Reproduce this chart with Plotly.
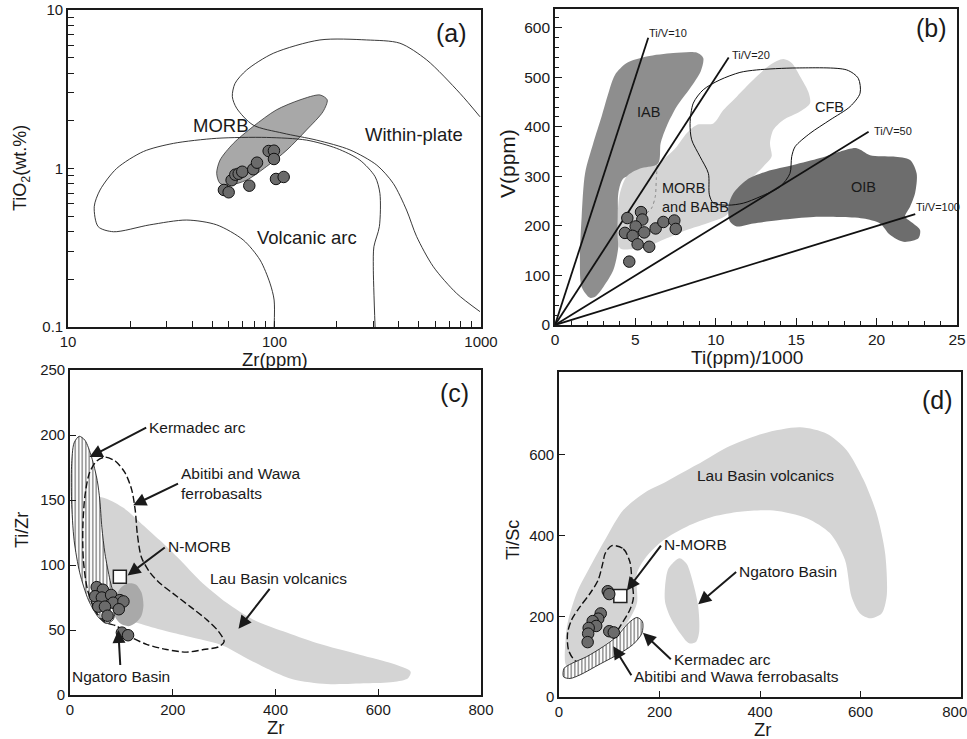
import math
import plotly.graph_objects as go

FONT = "Liberation Sans, Arial, sans-serif"
INK = "#1a1a1a"
PT_FILL = "#6b6b6b"
LIGHT = "#d4d4d4"

# ---------------- Panel (a): TiO2 vs Zr (log-log)
a_zr = [56.9, 60.0, 62.0, 64.6, 67.1, 69.8, 75.5, 78.9, 82.3, 93.7, 99.4, 99.4, 101.7, 110.8]
a_tio2 = [0.732, 0.708, 0.843, 0.914, 0.927, 0.954, 0.779, 0.989, 1.088, 1.289, 1.295, 1.148, 0.859, 0.884]

a_morb_zr = [52.5, 54.5, 63.2, 78.8, 102, 133, 166, 180, 172, 143, 115, 91.6, 73.3, 60.9, 54.5, 52.5]
a_morb_tio2 = [0.933, 1.13, 1.44, 1.84, 2.34, 2.71, 2.91, 2.71, 2.29, 1.75, 1.31, 1.03, 0.845, 0.787, 0.805, 0.933]

a_wp_zr = [989, 791, 546, 405, 279, 166, 98.7, 73.3, 64.4, 62.5, 65.6, 78.8, 110, 160, 232, 313, 376,
           436, 488, 588, 762, 989]
a_wp_tio2 = [2.12, 2.98, 4.84, 6.17, 6.47, 6.47, 5.33, 4.18, 3.44, 2.84, 2.40, 1.88, 1.67, 1.51, 1.31,
             1.05, 0.805, 0.547, 0.372, 0.240, 0.163, 0.125]

a_va_zr = [99.6, 99.6, 95.1, 85.1, 70.6, 52.5, 37.6, 24.9, 16.6, 14.0, 13.4, 14.3, 17.2, 23.2, 32.4,
           52.5, 91.6, 143, 200, 259, 307, 324, 322, 303, 301, 307]
a_va_tio2 = [0.1, 0.148, 0.189, 0.265, 0.354, 0.441, 0.473, 0.441, 0.399, 0.430, 0.574, 0.732, 1.0,
             1.28, 1.44, 1.55, 1.57, 1.51, 1.34, 1.13, 0.888, 0.697, 0.430, 0.321, 0.240, 0.1]

a_labels = ["MORB", "Within-plate", "Volcanic arc"]
a_label_zr = [55.1, 474, 144]
a_label_tio2 = [1.88, 1.65, 0.365]

# ---------------- Panel (b): V vs Ti/1000
b_ti = [4.50, 5.35, 5.43, 5.02, 4.35, 4.83, 5.55, 6.26, 6.74, 7.42, 7.51, 5.14, 5.86, 4.62]
b_v = [216, 228, 213, 199, 186, 180, 187, 195, 208, 211, 194, 163, 158, 128]

b_ratio = [10, 20, 50, 100]
b_ratio_end_ti = [5.8, 10.8, 19.5, 22.4]
b_ratio_label_ti = [5.75, 10.9, 19.7, 22.3]
b_ratio_label_v = [590, 545, 392, 238]

b_iab_ti = [2.18, 1.66, 1.55, 1.66, 1.87, 2.38, 2.90, 3.32, 3.73, 4.46, 5.70, 7.36, 8.81, 9.22, 9.06,
            8.40, 7.57, 6.94, 6.57, 6.43, 5.29, 4.25, 3.94, 3.94, 3.63, 3.01, 2.49, 2.18]
b_iab_v = [55, 77, 131, 219, 306, 367, 421, 468, 505, 529, 542, 549, 550, 539, 512,
           478, 441, 401, 367, 327, 306, 296, 266, 158, 111, 77, 57, 55]

b_morb_ti = [4.04, 3.90, 4.04, 4.46, 5.29, 6.32, 6.94, 7.57, 8.19, 8.81, 9.85, 10.47, 11.30, 12.33,
             13.37, 14.20, 14.72, 15.24, 15.75, 15.86, 15.24, 14.20, 13.58, 13.37, 13.47, 12.96,
             11.92, 11.09, 10.68, 9.43, 8.19, 6.94, 5.70, 4.66, 4.04]
b_morb_v = [155, 219, 266, 300, 316, 323, 340, 360, 387, 404, 407, 434, 461, 495,
            525, 537, 529, 502, 471, 448, 431, 414, 394, 367, 340, 320,
            286, 253, 222, 205, 192, 175, 158, 153, 155]

b_babb_ti = [6.36, 6.30, 6.24, 6.01, 5.70]
b_babb_v = [323, 294, 260, 236, 226]

b_oib_ti = [10.78, 11.09, 11.92, 13.16, 14.82, 16.48, 17.72, 18.76, 19.59, 21.04, 22.08, 22.49, 22.39,
            22.08, 21.77, 22.28, 22.70, 22.60, 21.66, 20.83, 20.21, 19.17, 17.72, 16.07, 13.99,
            12.33, 11.30, 10.88, 10.78]
b_oib_v = [239, 266, 293, 310, 323, 337, 350, 357, 343, 340, 333, 306, 266,
           239, 219, 205, 192, 175, 168, 182, 205, 215, 218, 218, 212,
           205, 199, 209, 239]

b_cfb_ti = [10.78, 9.85, 9.60, 9.54, 9.02, 8.50, 8.40, 8.60, 9.22, 10.26, 11.50, 12.54, 15.03, 18.14,
            18.86, 18.97, 18.35, 17.10, 15.86, 14.93, 14.72, 14.61, 13.99, 12.75, 11.71, 10.78]
b_cfb_v = [242, 246, 263, 306, 340, 374, 407, 448, 475, 495, 510, 515, 519, 515,
           498, 468, 441, 414, 387, 360, 340, 306, 279, 259, 246, 242]

b_labels = ["IAB", "CFB", "OIB"]
b_label_ti = [5.8, 17.1, 19.2]
b_label_v = [431, 441, 279]

# ---------------- Panel (c): Ti/Zr vs Zr
c_zr = [52, 64, 49, 62, 80, 97, 84, 55, 68, 104, 95, 73, 101, 113]
c_tizr = [83, 81, 76, 75, 77, 73, 71, 68, 68, 72, 66, 61, 48, 46]
c_nmorb = (97, 91)

c_lau_zr = [18, 29, 45, 71, 104, 136, 175, 214, 253, 305, 357, 415, 480, 564, 629, 663, 658, 629, 577,
            500, 435, 396, 350, 298, 240, 188, 143, 104, 71, 49, 32, 21, 18]
c_lau_tizr = [140, 150, 153, 151, 144, 133, 119, 104, 88, 71, 58, 49, 40, 31, 24, 18, 13, 10, 9,
              8.5, 12, 18, 27, 38, 44, 49, 54, 59, 68, 83, 104, 124, 140]

c_ngat_zr = [143, 139, 128, 114, 100, 89, 85, 88, 98, 114, 129, 139, 143]
c_ngat_tizr = [69, 79, 85, 86, 83, 76, 69, 60, 55, 53, 56, 61, 69]

c_ker_zr = [18, 29, 42, 53, 58, 62, 68, 78, 88, 84, 71, 55, 36, 19, 8, 3, 3, 8, 18]
c_ker_tizr = [199, 196, 183, 165, 150, 129, 109, 88, 71, 58, 55, 60, 73, 94, 119, 150, 176, 194, 199]

c_abi_zr = [68, 88, 107, 120, 127, 131, 139, 156, 175, 201, 234, 266, 289, 300, 289, 260, 227, 188,
            149, 117, 91, 68, 49, 34, 26, 25, 29, 38, 52, 68]
c_abi_tizr = [183, 180, 171, 158, 142, 124, 106, 94, 86, 78, 68, 58, 49, 41, 37, 35, 33, 35,
              39, 45, 53, 56, 65, 81, 104, 129, 153, 171, 180, 183]

# labelled arrows: text, text anchor (zr, ti/zr), anchor side, arrow head
c_texts = ["Kermadec arc", "Abitibi and Wawa<br>ferrobasalts", "N-MORB", "Lau Basin volcanics",
           "Ngatoro Basin"]
c_text_zr = [150, 212, 186, 405, 99]
c_text_tizr = [206, 163, 114, 90, 14.6]
c_text_anchor = ["left", "left", "left", "center", "center"]
c_head_zr = [38, 123, 112, 328, 94]
c_head_tizr = [183, 146, 92, 51, 50]

# ---------------- Panel (d): Ti/Sc vs Zr
d_zr = [97, 100, 83, 78, 67, 74, 59, 58, 57, 100, 109]
d_tisc = [262, 255, 207, 194, 188, 176, 171, 157, 136, 163, 160]
d_nmorb = (122, 250)

d_lau_zr = [14, 13, 17, 35, 62, 95, 128, 174, 214, 274, 340, 407, 480, 533, 572, 606, 632, 649, 652,
            642, 619, 599, 582, 569, 539, 493, 427, 360, 307, 254, 208, 174, 155, 155, 135, 95,
            55, 29, 14]
d_lau_tisc = [79, 141, 183, 257, 323, 397, 463, 509, 534, 575, 622, 653, 668, 652, 612, 538, 455,
              356, 249, 207, 195, 207, 249, 340, 406, 443, 462, 459, 447, 422, 389, 348, 306,
              232, 183, 133, 96, 77, 79]

d_ngat_zr = [211, 218, 240, 254, 267, 277, 279, 273, 259, 241, 221, 211, 211]
d_ngat_tisc = [273, 319, 344, 330, 282, 224, 162, 137, 133, 158, 199, 236, 273]

d_abi_zr = [105, 128, 141, 145, 148, 141, 121, 88, 55, 32, 19, 17, 25, 42, 62, 78, 87, 92, 105]
d_abi_tisc = [375, 367, 335, 290, 245, 216, 174, 108, 82, 90, 116, 158, 191, 224, 257, 290, 331, 356, 375]

d_ker_zr = [9, 10, 25, 55, 88, 115, 138, 155, 166, 165, 148, 121, 82, 42, 22, 9]
d_ker_tisc = [50, 71, 83, 100, 125, 150, 183, 197, 187, 158, 131, 108, 82, 55, 46, 50]

d_texts = ["N-MORB", "Ngatoro Basin", "Kermadec arc", "Abitibi and Wawa ferrobasalts"]
d_text_zr = [204, 354, 224, 145]
d_text_tisc = [377, 311, 92, 52]
d_head_zr = [135, 277, 167, 108]
d_head_tisc = [264, 230, 159, 126]

d_xticks = [0, 200, 400, 600, 800]
d_xticktext = ["0", "200", "400", "600", "800\u00a0\u00a0\u00a0"]

fig = go.Figure()


def poly(x, y, ax, fill=None, line_color=None, width=1, dash=None, pattern=None, smoothing=0.8):
    kw = dict(x=x, y=y, mode="lines", xaxis="x" + ax, yaxis="y" + ax, hoverinfo="skip",
              showlegend=False,
              line=dict(shape="spline", smoothing=smoothing,
                        color=line_color if line_color else "rgba(0,0,0,0)", width=width,
                        dash=dash))
    if fill is not None:
        kw["fill"] = "toself"
        kw["fillcolor"] = fill
    if pattern is not None:
        kw["fill"] = "toself"
        kw["fillcolor"] = "white"
        kw["fillpattern"] = pattern
    fig.add_trace(go.Scatter(**kw))


def pts(x, y, ax):
    fig.add_trace(go.Scatter(x=x, y=y, mode="markers", xaxis="x" + ax, yaxis="y" + ax,
                             showlegend=False,
                             marker=dict(size=11.5, color=PT_FILL, line=dict(color="#111", width=1))))


def square(p, ax):
    fig.add_trace(go.Scatter(x=[p[0]], y=[p[1]], mode="markers", xaxis="x" + ax, yaxis="y" + ax,
                             showlegend=False,
                             marker=dict(symbol="square", size=13, color="white",
                                         line=dict(color="#222", width=1.5))))


HATCH = dict(shape="|", size=3.5, solidity=0.22, fgcolor="#222", bgcolor="white", fillmode="replace")

# ---- (a)
poly(a_morb_zr, a_morb_tio2, "", fill="#a8a8a8", line_color="#333", width=0.8)
poly(a_wp_zr, a_wp_tio2, "", line_color="#222", width=0.9)
poly(a_va_zr, a_va_tio2, "", line_color="#222", width=0.9)
pts(a_zr, a_tio2, "")

# ---- (b)
poly(b_iab_ti, b_iab_v, "2", fill="#8e8e8e")
poly(b_morb_ti, b_morb_v, "2", fill=LIGHT)
poly(b_oib_ti, b_oib_v, "2", fill="#6d6d6d")
poly(b_babb_ti, b_babb_v, "2", line_color="#777", width=0.8, dash="dot")
poly(b_cfb_ti, b_cfb_v, "2", line_color="#111", width=1.0)
for r, xe in zip(b_ratio, b_ratio_end_ti):
    fig.add_trace(go.Scatter(x=[0, xe], y=[0, xe * 1000 / r], mode="lines", xaxis="x2", yaxis="y2",
                             showlegend=False, hoverinfo="skip",
                             line=dict(color="#111", width=1.8)))
pts(b_ti, b_v, "2")

# ---- (c)
poly(c_lau_zr, c_lau_tizr, "3", fill=LIGHT)
poly(c_ngat_zr, c_ngat_tizr, "3", fill="#a9a9a9")
poly(c_ker_zr, c_ker_tizr, "3", line_color="#222", width=0.9, pattern=HATCH)
poly(c_abi_zr, c_abi_tizr, "3", line_color="#111", width=1.4, dash="7px,3px")
square(c_nmorb, "3")
pts(c_zr, c_tizr, "3")

# ---- (d)
poly(d_lau_zr, d_lau_tisc, "4", fill=LIGHT)
poly(d_ngat_zr, d_ngat_tisc, "4", fill=LIGHT)
poly(d_abi_zr, d_abi_tisc, "4", line_color="#111", width=1.4, dash="7px,3px")
poly(d_ker_zr, d_ker_tisc, "4", line_color="#222", width=0.9, pattern=HATCH)
square(d_nmorb, "4")
pts(d_zr, d_tisc, "4")

ann = []


def txt(text, x, y, xref, yref, size, xanchor="center", angle=0, align="center"):
    ann.append(dict(text=text, x=x, y=y, xref=xref, yref=yref, showarrow=False, xanchor=xanchor,
                    yanchor="middle", textangle=angle, align=align,
                    font=dict(family=FONT, size=size, color=INK)))


def arrow_txt(text, tx, ty, hx, hy, ax, xanchor):
    ann.append(dict(text=text, x=hx, y=hy, ax=tx, ay=ty, xref="x" + ax, yref="y" + ax,
                    axref="x" + ax, ayref="y" + ax, showarrow=True, arrowhead=2,
                    arrowsize=1.3, arrowwidth=2, arrowcolor=INK, standoff=0, startstandoff=1,
                    xanchor=xanchor, yanchor="middle", align="left",
                    font=dict(family=FONT, size=15.5, color=INK)))


# (a) labels (log axes -> log10 positions)
for t, x, y in zip(a_labels, a_label_zr, a_label_tio2):
    txt(t, math.log10(x), math.log10(y), "x", "y", 18.5)
# (b) labels
for t, x, y in zip(b_labels, b_label_ti, b_label_v):
    txt(t, x, y, "x2", "y2", 14.5)
txt("MORB<br>and BABB", 6.5, 257, "x2", "y2", 14.5, xanchor="left", align="left")
for r, x, y in zip(b_ratio, b_ratio_label_ti, b_ratio_label_v):
    txt("Ti/V=%d" % r, x, y, "x2", "y2", 11, xanchor="left")
# (c) labels with arrows
for t, x, y, xa, hx, hy in zip(c_texts, c_text_zr, c_text_tizr, c_text_anchor, c_head_zr, c_head_tizr):
    arrow_txt(t, x, y, hx, hy, "3", xa)
# (d) labels
txt("Lau Basin volcanics", 410, 548, "x4", "y4", 15.5)
for t, x, y, hx, hy in zip(d_texts, d_text_zr, d_text_tisc, d_head_zr, d_head_tisc):
    arrow_txt(t, x, y, hx, hy, "4", "left")

# panel letters
for t, x, y in [("(a)", 0.4674, 0.9553), ("(b)", 0.9638, 0.9621), ("(c)", 0.4705, 0.4682),
                ("(d)", 0.969, 0.4587)]:
    txt(t, x, y, "paper", "paper", 25)

# axis titles
txt("Zr(ppm)", 0.2844, 0.5142, "paper", "paper", 18.5)
txt("TiO<sub>2</sub>(wt.%)", 0.0228, 0.7727, "paper", "paper", 18, angle=-90)
txt("Ti(ppm)/1000", 0.7725, 0.5169, "paper", "paper", 19)
txt("V(ppm)", 0.5243, 0.7794, "paper", "paper", 21, angle=-90)
txt("Zr", 0.2844, 0.0150, "paper", "paper", 18.5)
txt("Ti/Zr", 0.0228, 0.2828, "paper", "paper", 18, angle=-90)
txt("Zr", 0.789, 0.0125, "paper", "paper", 18.5)
txt("Ti/Sc", 0.5305, 0.2693, "paper", "paper", 18, angle=-90)


def axis(size=15, **kw):
    d = dict(showline=True, linecolor=INK, linewidth=1.6, mirror=True, ticks="inside",
             tickcolor=INK, ticklen=6, tickwidth=1.2, showgrid=False, zeroline=False,
             tickfont=dict(family=FONT, size=size, color=INK), automargin=False)
    d.update(kw)
    return d


minor_x_a = [20, 30, 40, 50, 60, 70, 80, 90, 200, 300, 400, 500, 600, 700, 800, 900]
minor_y_a = [0.2, 0.3, 0.4, 0.5, 0.6, 0.7, 0.8, 0.9, 2, 3, 4, 5, 6, 7, 8, 9]

fig.update_layout(
    width=967, height=739, margin=dict(l=0, r=0, t=0, b=0),
    paper_bgcolor="white", plot_bgcolor="white", showlegend=False,
    xaxis=axis(type="log", range=[1, 3], domain=[0.0703, 0.4974], anchor="y",
               tickvals=[10, 100, 1000], ticktext=["10", "100", "1000"],
               minor=dict(tickvals=minor_x_a, ticks="inside", ticklen=6, tickcolor=INK)),
    yaxis=axis(type="log", range=[-1, 1], domain=[0.5575, 0.9865], anchor="x",
               tickvals=[0.1, 1, 10], ticktext=["0.1", "1", "10"],
               minor=dict(tickvals=minor_y_a, ticks="inside", ticklen=6, tickcolor=INK)),
    xaxis2=axis(size=15.5, range=[0, 25], domain=[0.5739, 0.9897], anchor="y2", dtick=5, ticklen=7,
                minor=dict(dtick=1, ticks="inside", ticklen=4, tickcolor=INK)),
    yaxis2=axis(size=15.5, range=[0, 638], domain=[0.5602, 0.9878], anchor="x2", dtick=100, ticklen=7,
                minor=dict(dtick=20, ticks="inside", ticklen=4, tickcolor=INK)),
    xaxis3=axis(range=[0, 800], domain=[0.0724, 0.4974], anchor="y3", dtick=200),
    yaxis3=axis(range=[0, 250], domain=[0.0595, 0.4993], anchor="x3", dtick=50),
    xaxis4=axis(size=15, range=[0, 800], domain=[0.5781, 0.9938], anchor="y4",
                tickvals=d_xticks, ticktext=d_xticktext, ticklabeloverflow="allow"),
    yaxis4=axis(size=15, range=[0, 805], domain=[0.0568, 0.4966], anchor="x4",
                tickvals=[0, 200, 400, 600]),
    annotations=ann,
)

fig.write_html(
    "out.html",
    config={"displayModeBar": False},
    post_script="document.body.style.margin='0';document.body.style.padding='0';"
                "document.body.style.overflow='hidden';",
)
